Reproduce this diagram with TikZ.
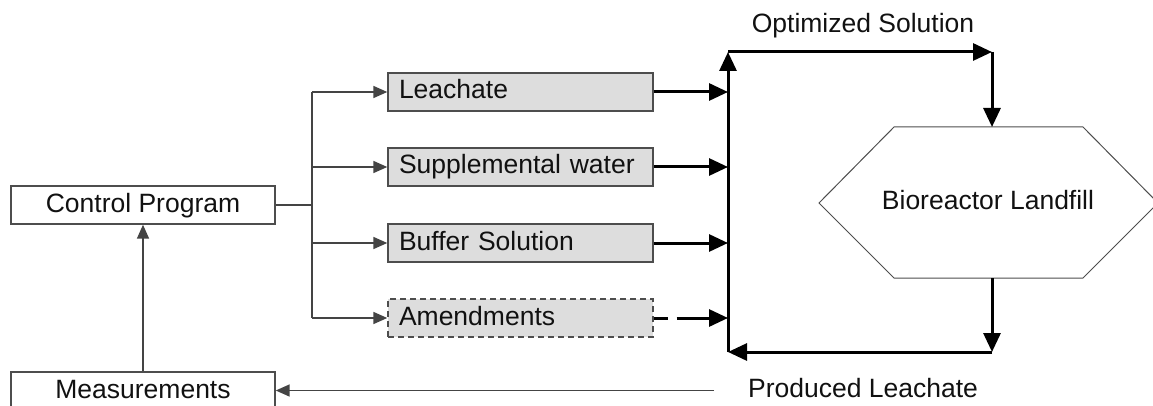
\documentclass[tikz,border=0pt]{standalone}
\usepackage{fontspec}
\setmainfont{Liberation Sans}
\usetikzlibrary{arrows.meta,calc}
\definecolor{boxfill}{HTML}{DDDDDD}
\definecolor{edge}{HTML}{4D4D4D}
\definecolor{wire}{HTML}{444444}
\definecolor{ink}{HTML}{111111}
\tikzset{
  lbl/.style={font=\fontsize{26.5}{30}\selectfont, text=ink, text height=19pt, text depth=5pt, inner sep=0pt},
  plainbox/.style={lbl, draw=edge, line width=1.4pt, minimum width=264pt, minimum height=38pt},
  feedbox/.style={lbl, draw=edge, line width=1.4pt, fill=boxfill, minimum width=265pt,
    minimum height=38pt, align=left, text width=243pt, inner xsep=11pt},
  thinwire/.style={draw=wire, line width=1.7pt},
  thinarrow/.style={thinwire, -{Triangle[length=14pt,width=12pt]}},
  thickwire/.style={draw=black, line width=3pt},
  thickarrow/.style={thickwire, -{Triangle[length=19pt,width=17pt]}},
}
\begin{document}
\begin{tikzpicture}[x=1pt,y=-1pt]
\useasboundingbox (0,0) rectangle (1153,406);
\clip (0,0) rectangle (1153,406);

% control side
\node[plainbox] (ctrl) at (143,205) {Control Program};
\node[plainbox] (meas) at (143,391) {Measurements};

% supply streams
\node[feedbox] (leach) at (520.5,92)  {Leachate};
\node[feedbox] (water) at (520.5,167) {Supplemental water};
\node[feedbox] (buff)  at (520.5,243) {Buffer Solution};
\node[feedbox, dashed, dash pattern=on 6pt off 4pt] (amend) at (520.5,318) {Amendments};

% landfill hexagon
\draw[draw=edge, line width=1pt] (819,203) -- (894,127) -- (1083,127) -- (1158,203)
  -- (1083,278) -- (894,278) -- cycle;
\node[lbl] (land) at (988,203) {Bioreactor Landfill};

% flow labels
\node[lbl] (opt)  at (863,26)  {Optimized Solution};
\node[lbl] (prod) at (863,390) {Produced Leachate};

% junction points
\coordinate (split) at (312,205);
\coordinate (trunkT) at (312,92);
\coordinate (trunkB) at (312,318);
\coordinate (busT) at (728,52);
\coordinate (busB) at (728,352);
\coordinate (cornerT) at (992,52);
\coordinate (cornerB) at (992,352);
\coordinate (hexT) at (992,127);
\coordinate (hexB) at (992,278);
\coordinate (retStart) at (714,390.5);

% control distribution
\draw[thinwire] (ctrl.east) -- (split);
\draw[thinwire] (trunkT) -- (trunkB);
\draw[thinarrow] (trunkT) -- (leach.west);
\draw[thinarrow] (split |- water) -- (water.west);
\draw[thinarrow] (split |- buff) -- (buff.west);
\draw[thinarrow] (trunkB) -- (amend.west);
\draw[thinarrow] (meas.north) -- (ctrl.south);
\draw[thinarrow] (retStart) -- (meas.east |- retStart);

% feed lines into the manifold
\draw[thickarrow] (leach.east) -- (busT |- leach);
\draw[thickarrow] (water.east) -- (busT |- water);
\draw[thickarrow] (buff.east) -- (busT |- buff);
\draw[thickarrow, dash pattern=on 14pt off 9pt on 60pt] (amend.east) -- (busT |- amend);

% recirculation loop
\draw[thickarrow] (busB) -- (busT);
\draw[thickarrow] (busT) -- (cornerT);
\draw[thickarrow] (cornerT) -- (hexT);
\draw[thickarrow] (hexB) -- (cornerB);
\draw[thickarrow] (cornerB) -- (busB);
\end{tikzpicture}
\end{document}
